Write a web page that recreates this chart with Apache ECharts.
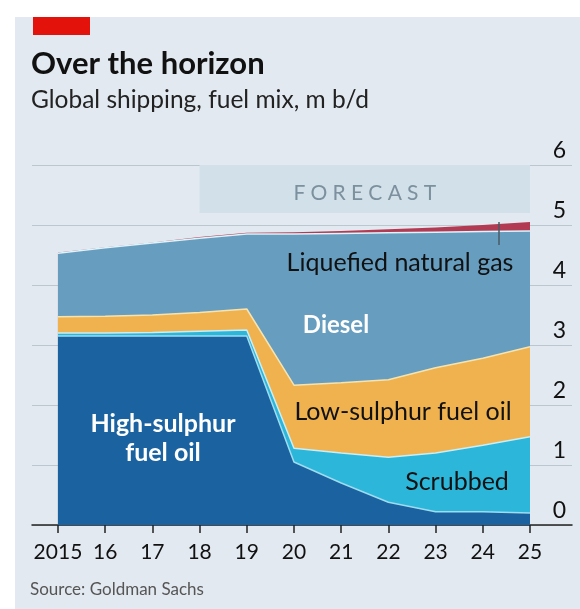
<!DOCTYPE html>
<html>
<head>
<meta charset="utf-8">
<script src="https://cdn.jsdelivr.net/npm/echarts@6/dist/echarts.min.js"></script>
<style>
  html, body { margin: 0; padding: 0; background: #fff; }
  #wrap { position: relative; width: 580px; height: 609px; }
  .panel { position: absolute; left: 15px; top: 17px; right: 0; bottom: 0; background: #e2e9f0; }
  .tag { position: absolute; left: 33px; top: 17px; width: 57px; height: 18px; background: #e3120b; }
  #chart { position: absolute; left: 0; top: 0; width: 580px; height: 609px; }
</style>
</head>
<body>
<div id="wrap">
  <div class="panel"></div>
  <div class="tag"></div>
  <div id="chart"></div>
</div>
<script>
// years and tick labels
var years = [2015, 2016, 2017, 2018, 2019, 2020, 2021, 2022, 2023, 2024, 2025];
var tickLabels = ["2015", "16", "17", "18", "19", "20", "21", "22", "23", "24", "25"];

// m b/d, layers from bottom to top
var hsfo     = [3.15, 3.15, 3.15, 3.15, 3.15, 1.05, 0.70, 0.38, 0.22, 0.22, 0.20];
var scrubbed = [0.05, 0.05, 0.06, 0.08, 0.10, 0.23, 0.50, 0.75, 0.98, 1.11, 1.27];
var lsfo     = [0.27, 0.28, 0.29, 0.31, 0.35, 1.05, 1.17, 1.29, 1.42, 1.45, 1.50];
var diesel   = [1.06, 1.14, 1.20, 1.24, 1.25, 2.52, 2.49, 2.45, 2.26, 2.11, 1.93];
var lng      = [0.01, 0.01, 0.01, 0.02, 0.02, 0.03, 0.04, 0.06, 0.08, 0.11, 0.15];

var FONT = "Lato";

// running totals, so each layer is drawn as an area from zero, top layer first
var layers = [hsfo, scrubbed, lsfo, diesel, lng];
var tops = [];
var run = years.map(function () { return 0; });
layers.forEach(function (arr) {
  run = run.map(function (v, i) { return +(v + arr[i]).toFixed(3); });
  tops.push(run);
});

function pairs(arr) {
  return arr.map(function (v, i) { return [years[i], v]; });
}

function layer(name, data, color, edge) {
  return {
    name: name,
    type: "line",
    data: pairs(data),
    showSymbol: false,
    symbol: "none",
    lineStyle: edge ? { color: edge, width: 1.5 } : { width: 0 },
    areaStyle: { color: color, opacity: 1 },
    emphasis: { disabled: true },
    silent: true
  };
}

var chart = echarts.init(document.getElementById("chart"));

var series = [
  layer("Liquefied natural gas", tops[4], "#b23a52", null),
  layer("Diesel", tops[3], "#679dbf", "#dff3fa"),
  layer("Low-sulphur fuel oil", tops[2], "#efb24f", "#f6e4b0"),
  layer("Scrubbed", tops[1], "#2cb6da", "#c9eef8"),
  layer("High-sulphur fuel oil", tops[0], "#1a62a0", "#9fdcf0")
];
// forecast box
series[0].markArea = {
  silent: true,
  itemStyle: { color: "#d2e0e9" },
  label: {
    show: true,
    position: "inside",
    color: "#7d909d",
    fontFamily: FONT,
    fontSize: 21,
    offset: [0, 4]
  },
  data: [[{ name: "F\u2005O\u2005R\u2005E\u2005C\u2005A\u2005S\u2005T", coord: [2018, 5.2] }, { coord: [2025, 6] }]]
};

chart.setOption({
  animation: false,
  textStyle: { fontFamily: FONT },
  title: [
    {
      text: "Over the horizon",
      subtext: "Global shipping, fuel mix, m b/d",
      left: 31,
      top: 48,
      padding: 0,
      itemGap: 9,
      textStyle: { fontFamily: FONT, fontSize: 31, fontWeight: "bold", color: "#111" },
      subtextStyle: { fontFamily: FONT, fontSize: 24.5, color: "#222" }
    },
    {
      text: "Source: Goldman Sachs",
      left: 30,
      top: 581,
      padding: 0,
      textStyle: { fontFamily: FONT, fontSize: 17, fontWeight: "normal", color: "#555" }
    }
  ],
  grid: { left: 32, right: 8, top: 165, bottom: 84 },
  xAxis: {
    type: "value",
    min: 2014.45,
    max: 2025.89,
    splitLine: { show: false },
    axisLine: { show: true, onZero: false, lineStyle: { color: "#222", width: 1.5 } },
    axisTick: { show: true, customValues: years, length: 8, lineStyle: { color: "#222", width: 1.5 } },
    axisLabel: {
      customValues: years,
      color: "#111",
      fontSize: 21,
      margin: 17,
      formatter: function (v) { return tickLabels[years.indexOf(v)]; }
    }
  },
  yAxis: {
    type: "value",
    position: "right",
    min: 0,
    max: 6,
    interval: 1,
    axisLine: { show: false },
    axisTick: { show: false },
    splitLine: { lineStyle: { color: "#bcc6cf", width: 1 } },
    axisLabel: {
      inside: true,
      margin: 6,
      verticalAlign: "bottom",
      padding: [0, 0, 3, 0],
      color: "#111",
      fontSize: 23
    }
  },
  series: series,
  graphic: [
    { type: "line", shape: { x1: 499, y1: 222, x2: 499, y2: 245 }, style: { stroke: "#4a5a66", lineWidth: 1.5 }, z: 100 },
    { type: "text", x: 400, y: 263, style: { text: "Liquefied natural gas", fill: "#111", font: "25px " + FONT, textAlign: "center", textVerticalAlign: "middle" }, z: 100 },
    { type: "text", x: 336, y: 325, style: { text: "Diesel", fill: "#fff", font: "bold 24px " + FONT, textAlign: "center", textVerticalAlign: "middle" }, z: 100 },
    { type: "text", x: 403, y: 412, style: { text: "Low-sulphur fuel oil", fill: "#111", font: "25px " + FONT, textAlign: "center", textVerticalAlign: "middle" }, z: 100 },
    { type: "text", x: 457, y: 482, style: { text: "Scrubbed", fill: "#111", font: "25px " + FONT, textAlign: "center", textVerticalAlign: "middle" }, z: 100 },
    { type: "text", x: 163, y: 424, style: { text: "High-sulphur", fill: "#fff", font: "bold 25px " + FONT, textAlign: "center", textVerticalAlign: "middle" }, z: 100 },
    { type: "text", x: 163, y: 453, style: { text: "fuel oil", fill: "#fff", font: "bold 25px " + FONT, textAlign: "center", textVerticalAlign: "middle" }, z: 100 }
  ]
});
</script>
</body>
</html>
